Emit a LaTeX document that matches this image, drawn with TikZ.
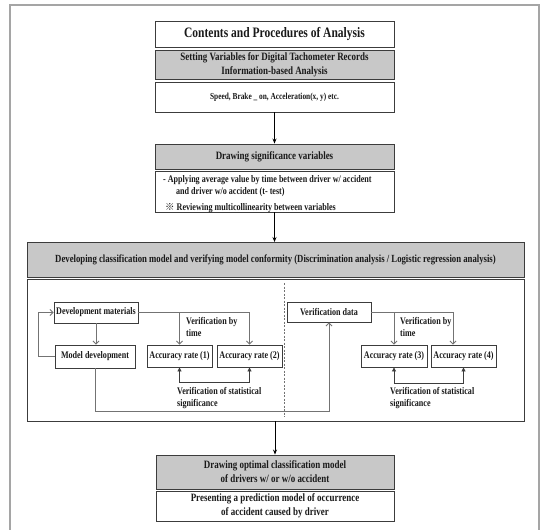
\documentclass[tikz,border=0pt]{standalone}
\usepackage{fontspec}
\setmainfont{Liberation Serif}[FakeStretch=0.8]
\newfontfamily\cjk{Noto Sans CJK SC}[BoldFont={Noto Sans CJK SC Bold}]
\usetikzlibrary{arrows.meta}
\definecolor{boxgray}{RGB}{200,200,200}
\definecolor{edgec}{RGB}{60,60,60}
\definecolor{connc}{RGB}{115,115,115}
\definecolor{framec}{RGB}{165,165,165}
\definecolor{txtc}{RGB}{25,25,25}
\newcommand{\fsz}[2]{\fontsize{#1}{#2}\selectfont}
\begin{document}
\begin{tikzpicture}[x=1pt,y=-1pt,
  box/.style={draw=edgec, line width=0.9pt, inner sep=0pt, align=center, text=txtc, font=\bfseries\fsz{10.1}{12}},
  graybox/.style={box, fill=boxgray},
  lbl/.style={inner sep=0pt, align=left, text=txtc, font=\bfseries\fsz{10.1}{11.5}},
  main/.style={draw=black, line width=0.8pt, -{Stealth[length=5pt,width=4pt]}},
  conn/.style={draw=connc, line width=0.9pt, -{Straight Barb[length=3pt,width=6pt]}},
  stat/.style={draw=edgec, line width=0.9pt, {Triangle[length=4pt,width=4pt]}-{Triangle[length=4pt,width=4pt]}},
  frame/.style={draw=framec, line width=1.5pt}]
\useasboundingbox (0,0) rectangle (541,530);
\fill[white] (0,0) rectangle (541,530);
\draw[frame] (10,530) -- (10,5) -- (539,5) -- (539,530);

% top column
\node[box, minimum width=239pt, minimum height=26pt, font=\bfseries\fsz{14.4}{16}] (title) at (274.5,34) {Contents and Procedures of Analysis};
\node[graybox, minimum width=239pt, minimum height=29pt, font=\bfseries\fsz{11.2}{14}] (setv) at (274.5,64.5) {Setting Variables for Digital Tachometer Records\\Information-based Analysis};
\node[box, minimum width=239pt, minimum height=30pt, font=\bfseries\fsz{9.2}{11}] (speed) at (274.5,97) {Speed, Brake \_ on, Acceleration(x, y) etc.};
\node[graybox, minimum width=239pt, minimum height=25pt, font=\bfseries\fsz{11.2}{13}] (sig) at (274.5,156.5) {Drawing significance variables};
\node[box, minimum width=239pt, minimum height=41pt] (apply) at (274.5,191.5) {};
\node[lbl, anchor=base west] (ap1) at (163,182.5) {- Applying average value by time between driver w/ accident};
\node[lbl, anchor=base west] (ap2) at (176,194.5) {and driver w/o accident (t- test)};
\node[lbl, anchor=base west] (ap3) at (165,210.5) {{\cjk\bfseries\fsz{9.5}{10}※} Reviewing multicollinearity between variables};

\draw[main] (speed.south) -- (sig.north);
\draw[main] (apply.south) -- (apply.south |- 0,242);

% classification model
\node[graybox, minimum width=497pt, minimum height=35pt, font=\bfseries\fsz{10.9}{13}] (dev) at (275.5,259.5) {Developing classification model and verifying model conformity (Discrimination analysis / Logistic regression analysis)};
\node[box, minimum width=497pt, minimum height=142pt] (big) at (275.5,350) {};
\draw[connc, line width=0.5pt, dash pattern=on 2pt off 1.5pt] (284,283) -- (284,417);

\node[box, minimum width=84pt, minimum height=21pt] (devmat) at (96,312.5) {Development materials};
\node[box, minimum width=80pt, minimum height=23pt] (modeldev) at (95,356.5) {Model development};
\node[box, minimum width=65pt, minimum height=22pt] (acc1) at (179.5,356) {Accuracy rate (1)};
\node[box, minimum width=65pt, minimum height=22pt] (acc2) at (249.5,356) {Accuracy rate (2)};
\node[box, minimum width=84pt, minimum height=20pt] (verdata) at (329,312) {Verification data};
\node[box, minimum width=66pt, minimum height=22pt] (acc3) at (394,356) {Accuracy rate (3)};
\node[box, minimum width=65pt, minimum height=22pt] (acc4) at (463.5,356) {Accuracy rate (4)};

\node[lbl, anchor=north west] (vbt1) at (186,317.5) {Verification by\\time};
\node[lbl, anchor=north west] (vbt2) at (400,317.5) {Verification by\\time};
\node[lbl, anchor=north west] (vos1) at (177,387.5) {Verification of statistical\\significance};
\node[lbl, anchor=north west] (vos2) at (390,387.5) {Verification of statistical\\significance};

\coordinate (low) at (0,411);
\coordinate (st1) at (0,382);
\coordinate (st2) at (0,383);
\coordinate (b4) at (453,0);

\draw[conn] (devmat.east) -| (acc2.north);
\draw[conn] (devmat.east -| acc1.north) -- (acc1.north);
\draw[conn] (devmat.south) -- (devmat.south |- modeldev.north);
\draw[conn] (modeldev.west) -- ++(-16,0) |- (devmat.west);
\draw[conn] (modeldev.south) -- (modeldev.south |- low) -| (verdata.south);
\draw[conn] (verdata.east) -| (b4 |- acc4.north);
\draw[conn] (verdata.east -| acc3.north) -- (acc3.north);
\draw[stat] (acc1.south) -- (acc1.south |- st1) -- (acc2.south |- st1) -- (acc2.south);
\draw[stat] (acc3.south) -- (acc3.south |- st2) -- (acc4.south |- st2) -- (acc4.south);

% bottom
\node[graybox, minimum width=238pt, minimum height=34pt, font=\bfseries\fsz{11.2}{14}] (opt) at (275,472) {Drawing optimal classification model\\of drivers w/ or w/o accident};
\node[box, minimum width=238pt, minimum height=30pt, font=\bfseries\fsz{11.2}{14}] (pres) at (275,506) {Presenting a prediction model of occurrence\\of accident caused by driver};
\draw[main] (opt.north |- big.south) -- (opt.north);
\end{tikzpicture}
\end{document}
